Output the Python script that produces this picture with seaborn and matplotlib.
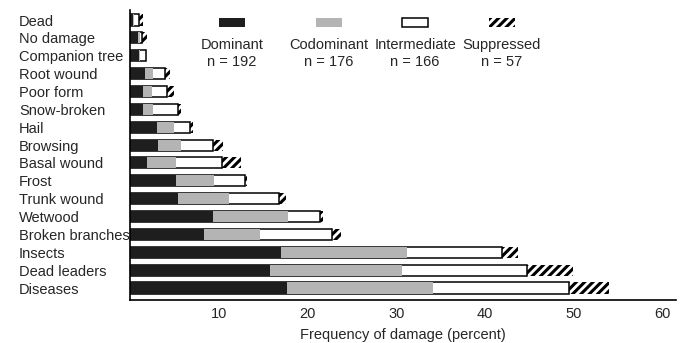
import numpy as np
import pandas as pd
import matplotlib
matplotlib.use("Agg")
import matplotlib.pyplot as plt
import seaborn as sns
from matplotlib.patches import Rectangle

categories = ["Dead", "No damage", "Companion tree", "Root wound", "Poor form",
              "Snow-broken", "Hail", "Browsing", "Basal wound", "Frost",
              "Trunk wound", "Wetwood", "Broken branches", "Insects",
              "Dead leaders", "Diseases"]
dominant     = [0.3, 0.9, 1.0, 1.7, 1.5, 1.5, 3.0, 3.1, 1.9, 5.2, 5.4, 9.4, 8.3, 17.0, 15.8, 17.7]
codominant   = [0.2, 0.2, 0.1, 0.9, 1.0, 1.1, 2.0, 2.7, 3.3, 4.3, 5.8, 8.4, 6.3, 14.2, 14.8, 16.4]
intermediate = [0.5, 0.2, 0.7, 1.3, 1.7, 2.8, 1.8, 3.5, 5.2, 3.4, 5.6, 3.6, 8.2, 10.7, 14.1, 15.4]
suppressed   = [0.5, 0.6, 0.0, 0.6, 0.8, 0.4, 0.3, 1.2, 2.1, 0.3, 0.8, 0.3, 1.0, 1.8, 5.2, 4.4]
groups = ["Dominant", "Codominant", "Intermediate", "Suppressed"]
group_n = [192, 176, 166, 57]
xticks = [10, 20, 30, 40, 50, 60]

df = pd.DataFrame({"category": categories, "dom": dominant, "cod": codominant,
                   "inter": intermediate, "sup": suppressed})
df["c1"] = df["dom"]
df["c2"] = df["c1"] + df["cod"]
df["c3"] = df["c2"] + df["inter"]
df["c4"] = df["c3"] + df["sup"]

sns.set_theme(style="white")
plt.rcParams["font.family"] = ["Liberation Sans", "DejaVu Sans"]
plt.rcParams["hatch.linewidth"] = 2.2
plt.rcParams["hatch.color"] = "black"

W, H = 682, 343
fig = plt.figure(figsize=(W / 100, H / 100), dpi=100)
ax = fig.add_axes([130 / W, 1 - 300 / H, (676 - 130) / W, (300 - 10) / H])

bw = 0.62
styles = [
    ("c4", dict(color="white", edgecolor="black", hatch="////", linewidth=0)),
    ("c3", dict(color="white", edgecolor="black", linewidth=1.1)),
    ("c2", dict(color="#b4b4b4", edgecolor="none", linewidth=0)),
    ("c1", dict(color="#1e1e1e", edgecolor="none", linewidth=0)),
]
for col, kw in styles:
    sns.barplot(data=df, x=col, y="category", orient="h", order=categories,
                width=bw, ax=ax, errorbar=None, **kw)

ax.set_xlim(0, 61.5)
ax.set_ylim(len(categories) - 1 + 0.67, -0.56)
ax.set_xticks(xticks)
ax.set_xticklabels([str(t) for t in xticks], fontsize=10.5)
ax.tick_params(axis="x", direction="in", length=4, width=1, color="black", pad=5)
ax.tick_params(axis="y", length=0, pad=80)
for lab in ax.get_yticklabels():
    lab.set_ha("left")
    lab.set_fontsize(10.5)
ax.set_ylabel("")
ax.set_xlabel("Frequency of damage (percent)", fontsize=10.5, labelpad=5)
for s in ["top", "right"]:
    ax.spines[s].set_visible(False)
for s in ["left", "bottom"]:
    ax.spines[s].set_color("black")
    ax.spines[s].set_linewidth(1.2)

# legend drawn manually (patch above two-line label)
leg_x = [232, 329, 415, 502]
leg_styles = [
    dict(facecolor="#1e1e1e", edgecolor="none"),
    dict(facecolor="#b4b4b4", edgecolor="none"),
    dict(facecolor="white", edgecolor="black", linewidth=1.1),
    dict(facecolor="white", edgecolor="black", hatch="////", linewidth=0),
]
pw, ph = 26, 9
for xc, g, n, st in zip(leg_x, groups, group_n, leg_styles):
    fig.add_artist(Rectangle(((xc - pw / 2) / W, 1 - (22 + ph / 2) / H), pw / W, ph / H,
                             transform=fig.transFigure, **st))
    fig.text(xc / W, 1 - 45 / H, g, ha="center", va="center", fontsize=10.5)
    fig.text(xc / W, 1 - 62 / H, f"n = {n}", ha="center", va="center", fontsize=10.5)

fig.savefig("out.png", dpi=100)
